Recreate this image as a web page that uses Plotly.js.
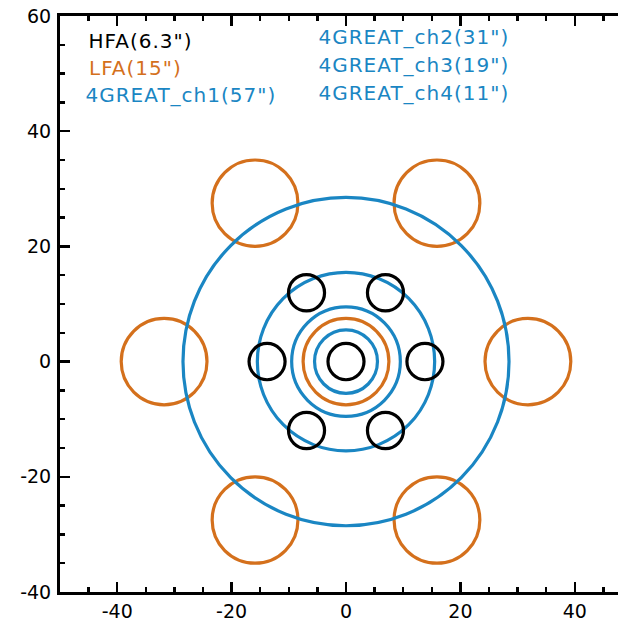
<!DOCTYPE html>
<html>
<head>
<meta charset="utf-8">
<script src="https://cdn.plot.ly/plotly-3.0.1.min.js"></script>
<style>
  html, body { margin: 0; padding: 0; overflow: hidden; background: #fff; }
  #plot { width: 640px; height: 622px; }
  #plot .annotation-text { letter-spacing: 1px; }
</style>
</head>
<body>
<div id="plot"></div>
<script>
// Beam footprints (arcsec offsets and FWHM diameters)
const hfaCx = [0, 13.8, 6.9, -6.9, -13.8, -6.9, 6.9];
const hfaCy = [0, 0, 11.95, 11.95, 0, -11.95, -11.95];
const hfaDiam = 6.3;

const lfaCx = [0, 31.8, 15.9, -15.9, -31.8, -15.9, 15.9];
const lfaCy = [0, 0, 27.5, 27.5, 0, -27.5, -27.5];
const lfaDiam = 15;

const greatNames = ['4GREAT_ch1', '4GREAT_ch2', '4GREAT_ch3', '4GREAT_ch4'];
const greatDiam = [57, 31, 19, 11];

const xTicks = [-40, -20, 0, 20, 40];
const yTicks = [-40, -20, 0, 20, 40, 60];

const black = '#000000';
const orange = '#d4701c';
const blue = '#1a86c3';

function ring(cx, cy, d, color) {
  return {
    type: 'circle', xref: 'x', yref: 'y',
    x0: cx - d / 2, x1: cx + d / 2, y0: cy - d / 2, y1: cy + d / 2,
    line: { color: color, width: 3.2 }, fillcolor: 'rgba(0,0,0,0)', layer: 'above'
  };
}

const shapes = [];
lfaCx.forEach((cx, i) => shapes.push(ring(cx, lfaCy[i], lfaDiam, orange)));
greatDiam.forEach(d => shapes.push(ring(0, 0, d, blue)));
hfaCx.forEach((cx, i) => shapes.push(ring(cx, hfaCy[i], hfaDiam, black)));

const labelFont = { family: 'DejaVu Sans, sans-serif', size: 20 };
function label(text, x, y, color) {
  return {
    text: text, xref: 'paper', yref: 'paper', x: x, y: y,
    xanchor: 'left', yanchor: 'middle', showarrow: false,
    font: Object.assign({}, labelFont, { color: color })
  };
}

const annotations = [
  label('HFA(' + hfaDiam + '")', 0.054, 0.956, black),
  label('LFA(' + lfaDiam + '")', 0.054, 0.910, orange),
  label(greatNames[0] + '(' + greatDiam[0] + '")', 0.054, 0.862, blue),
  label(greatNames[1] + '(' + greatDiam[1] + '")', 0.461, 0.964, blue),
  label(greatNames[2] + '(' + greatDiam[2] + '")', 0.461, 0.915, blue),
  label(greatNames[3] + '(' + greatDiam[3] + '")', 0.461, 0.866, blue)
];

const axisCommon = {
  showline: true, linecolor: '#000', linewidth: 3, mirror: 'allticks',
  ticks: 'inside', ticklen: 10, tickwidth: 2.5, tickcolor: '#000',
  showgrid: false, zeroline: false, fixedrange: true,
  tickfont: { family: 'DejaVu Sans, sans-serif', size: 19, color: '#000' },
  minor: { dtick: 5, ticks: 'inside', ticklen: 5, tickwidth: 2.5, tickcolor: '#000', showgrid: false }
};

const layout = {
  width: 640, height: 622,
  margin: { l: 60, r: 7.5, t: 16, b: 30 },
  paper_bgcolor: '#fff', plot_bgcolor: '#fff',
  showlegend: false,
  xaxis: Object.assign({}, axisCommon, {
    range: [-50, 50], tickmode: 'array', tickvals: xTicks,
    ticktext: xTicks.map(String), ticklabelstandoff: 0
  }),
  yaxis: Object.assign({}, axisCommon, {
    range: [-40, 60], tickmode: 'array', tickvals: yTicks,
    ticktext: yTicks.map(String), ticklabelstandoff: 2
  }),
  shapes: shapes,
  annotations: annotations
};

// An empty trace keeps the cartesian axes in place
Plotly.newPlot('plot', [{ x: [], y: [], type: 'scatter', mode: 'lines', hoverinfo: 'skip' }], layout, { displayModeBar: false, staticPlot: true });
</script>
</body>
</html>
